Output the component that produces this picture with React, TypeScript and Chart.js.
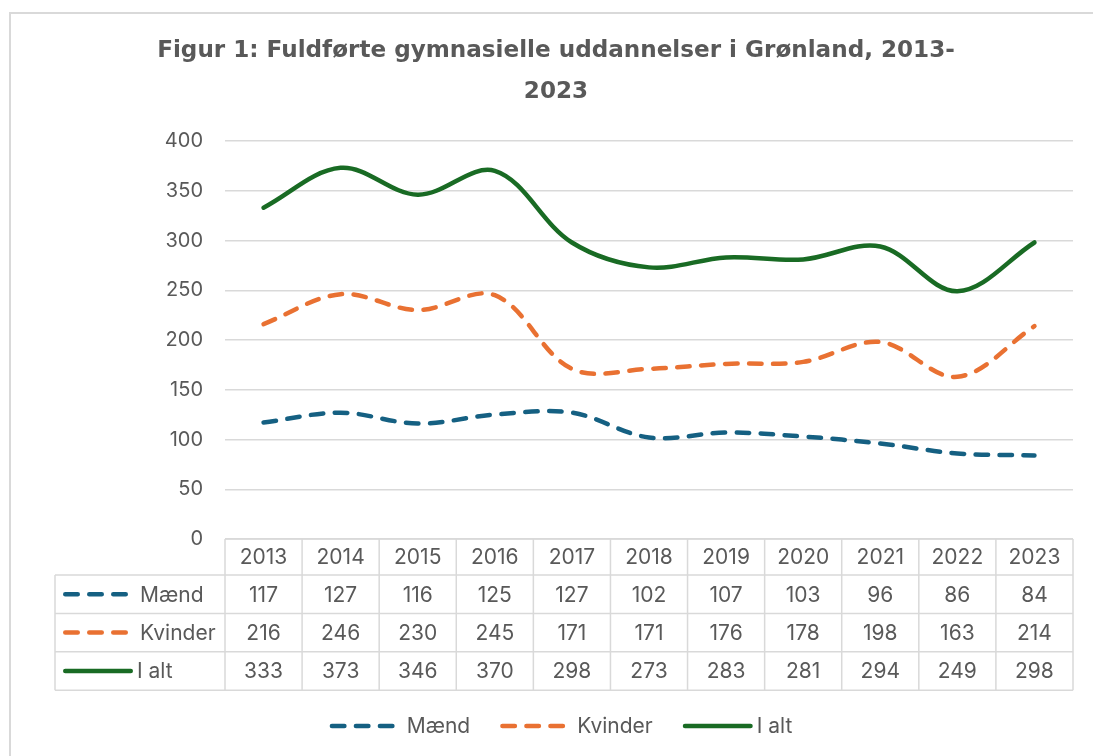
import React, { useEffect, useRef } from 'react';
import { Chart, registerables } from 'chart.js';

Chart.register(...registerables);

// ---- data ----
const years = ['2013', '2014', '2015', '2016', '2017', '2018', '2019', '2020', '2021', '2022', '2023'];
const maend = [117, 127, 116, 125, 127, 102, 107, 103, 96, 86, 84];
const kvinder = [216, 246, 230, 245, 171, 171, 176, 178, 198, 163, 214];
const iAlt = [333, 373, 346, 370, 298, 273, 283, 281, 294, 249, 298];
const seriesNames = ['Mænd', 'Kvinder', 'I alt'];
const seriesColors = ['#156082', '#E97132', '#196B24'];
const seriesDashed = [true, true, false];
const yMin = 0;
const yMax = 400;
const yStep = 50;
const titleLines = ['Figur 1: Fuldførte gymnasielle uddannelser i Grønland, 2013-', '2023'];

const FONT = 'Inter, "Open Sans", "Liberation Sans", sans-serif';
const TITLE_FONT = '"DejaVu Sans", "Open Sans", sans-serif';
const TEXT = '#595959';
const GRID = '#d9d9d9';
const DASH = [12.5, 11.5];
const LW = 4.5;

const drawSymbol = (ctx: CanvasRenderingContext2D, i: number, x: number, y: number) => {
  ctx.save();
  ctx.strokeStyle = seriesColors[i];
  ctx.lineWidth = LW;
  ctx.lineCap = 'round';
  ctx.setLineDash(seriesDashed[i] ? DASH : []);
  const len = seriesDashed[i] ? 65 : 70;
  ctx.beginPath();
  ctx.moveTo(x + LW / 2, y);
  ctx.lineTo(x + len - LW / 2, y);
  ctx.stroke();
  ctx.restore();
  return len;
};

const tablePlugin = {
  id: 'tablePlugin',
  afterDraw(chart: any) {
    const ctx: CanvasRenderingContext2D = chart.ctx;
    const area = chart.chartArea;
    const xs = chart.scales.x;
    const n = years.length;
    const colW = (area.right - area.left) / n;
    const top = area.bottom;
    const headerH = 36;
    const rowH = 38.4;
    const rowLeft = 55;
    const rows = [maend, kvinder, iAlt];
    const bottom = top + headerH + rowH * rows.length;

    // title
    ctx.save();
    ctx.fillStyle = TEXT;
    ctx.font = `bold 22px ${TITLE_FONT}`;
    const w = ctx.measureText(titleLines[0]).width;
    const size = Math.max(19, Math.min(26, (22 * 798) / w));
    ctx.font = `bold ${size}px ${TITLE_FONT}`;
    ctx.textAlign = 'center';
    ctx.textBaseline = 'middle';
    const cx = 556;
    titleLines.forEach((t, i) => ctx.fillText(t, cx, 51 + i * 41));
    ctx.restore();

    // table grid
    ctx.save();
    ctx.strokeStyle = GRID;
    ctx.lineWidth = 1.5;
    ctx.beginPath();
    ctx.moveTo(area.left, top);
    ctx.lineTo(area.right, top);
    for (let r = 0; r <= rows.length; r++) {
      const y = top + headerH + r * rowH;
      ctx.moveTo(rowLeft, y);
      ctx.lineTo(area.right, y);
    }
    for (let c = 0; c <= n; c++) {
      const x = area.left + c * colW;
      ctx.moveTo(x, top);
      ctx.lineTo(x, bottom);
    }
    ctx.moveTo(rowLeft, top + headerH);
    ctx.lineTo(rowLeft, bottom);
    ctx.stroke();
    ctx.restore();

    // table text
    ctx.save();
    ctx.fillStyle = TEXT;
    ctx.font = `21px ${FONT}`;
    ctx.textAlign = 'center';
    ctx.textBaseline = 'middle';
    years.forEach((yr, i) => {
      const x = xs.getPixelForValue(i);
      ctx.fillText(yr, x, top + headerH / 2 + 1);
      rows.forEach((vals, r) => {
        ctx.fillText(String(vals[i]), x, top + headerH + rowH * r + rowH / 2 + 1);
      });
    });
    ctx.textAlign = 'left';
    rows.forEach((_, r) => {
      const y = top + headerH + rowH * r + rowH / 2;
      const len = drawSymbol(ctx, r, 63, y);
      ctx.fillStyle = TEXT;
      ctx.fillText(seriesNames[r], 63 + len + (seriesDashed[r] ? 12 : 4), y + 1);
    });
    ctx.restore();

    // legend
    ctx.save();
    ctx.font = `21px ${FONT}`;
    ctx.textBaseline = 'middle';
    ctx.textAlign = 'left';
    const widths = seriesNames.map((s, i) => (seriesDashed[i] ? 65 + 12 : 70 + 4) + ctx.measureText(s).width);
    const gap = 30;
    const total = widths.reduce((a, b) => a + b, 0) + gap * (widths.length - 1);
    let x = 561 - total / 2;
    const ly = 726;
    seriesNames.forEach((s, i) => {
      const len = drawSymbol(ctx, i, x, ly);
      ctx.fillStyle = TEXT;
      ctx.fillText(s, x + len + (seriesDashed[i] ? 12 : 4), ly + 1);
      x += widths[i] + gap;
    });
    ctx.restore();
  },
};

export default function App() {
  const ref = useRef<HTMLCanvasElement | null>(null);
  useEffect(() => {
    if (!ref.current) return;
    const mk = (label: string, data: number[], i: number) => ({
      label,
      data,
      borderColor: seriesColors[i],
      backgroundColor: seriesColors[i],
      borderWidth: LW,
      borderDash: seriesDashed[i] ? DASH : [],
      borderCapStyle: 'round' as const,
      borderJoinStyle: 'round' as const,
      tension: 0.35,
      pointRadius: 0,
      pointHoverRadius: 0,
      fill: false,
    });
    const chart = new Chart(ref.current, {
      type: 'line',
      data: {
        labels: years,
        datasets: [mk(seriesNames[0], maend, 0), mk(seriesNames[1], kvinder, 1), mk(seriesNames[2], iAlt, 2)],
      },
      options: {
        animation: false,
        responsive: false,
        maintainAspectRatio: false,
        layout: { padding: { top: 141, bottom: 217, right: 20, left: 0 } },
        plugins: {
          legend: { display: false },
          title: { display: false },
          tooltip: { enabled: false },
        },
        scales: {
          x: {
            display: false,
            offset: true,
          },
          y: {
            min: yMin,
            max: yMax,
            afterFit: (s: any) => {
              s.width = 225;
            },
            border: { display: false },
            grid: { color: GRID, lineWidth: 1.5, drawTicks: false },
            ticks: {
              stepSize: yStep,
              padding: 22,
              color: TEXT,
              font: { family: FONT, size: 20 },
            },
          },
        },
      },
      plugins: [tablePlugin],
    });
    return () => chart.destroy();
  }, []);
  return (
    <div style={{ position: 'fixed', left: 0, top: 0, width: 1093, height: 756, background: '#fff', overflow: 'hidden' }}>
      <div
        style={{
          position: 'absolute',
          left: 9,
          top: 12,
          width: 1100,
          height: 800,
          border: '2px solid #d9d9d9',
          boxSizing: 'border-box',
        }}
      />
      <canvas ref={ref} width={1093} height={756} style={{ position: 'absolute', left: 0, top: 0 }} />
    </div>
  );
}
